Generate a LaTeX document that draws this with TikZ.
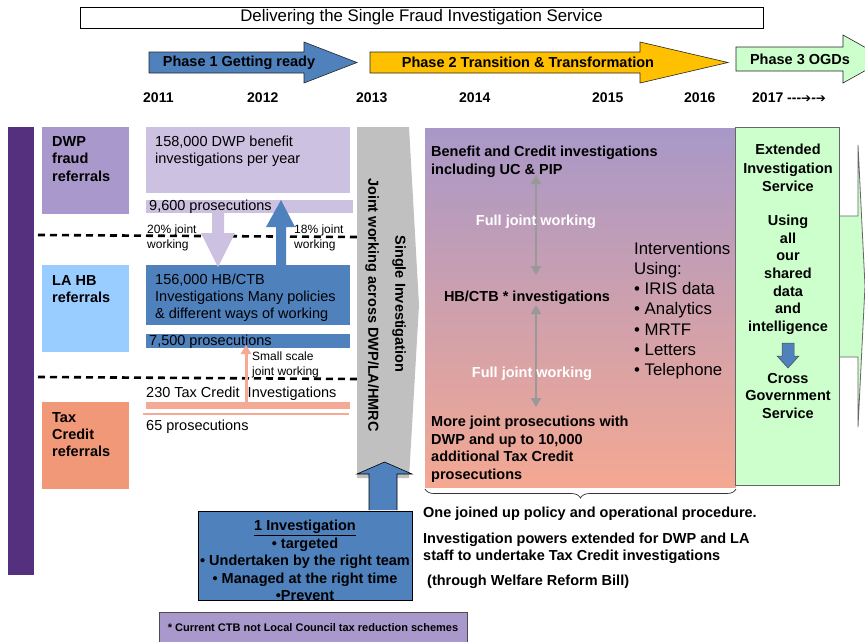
\documentclass[tikz,border=0pt]{standalone}
\usepackage{fontspec}
\setmainfont{Liberation Sans}
\newfontfamily\arrowfont{DejaVu Sans}
\usetikzlibrary{arrows.meta,decorations.pathreplacing}
\definecolor{fisblue}{HTML}{4F81BD}
\definecolor{lavdark}{HTML}{A898CB}
\definecolor{lavlight}{HTML}{CDC1E1}
\definecolor{hbblue}{HTML}{99CCFF}
\definecolor{salmon}{HTML}{F09878}
\definecolor{salmonlight}{HTML}{F4AA94}
\definecolor{barpurple}{HTML}{55307F}
\definecolor{greyarrow}{HTML}{C0C0C0}
\definecolor{ogdgreen}{HTML}{CCFFCC}
\definecolor{phasegold}{HTML}{FFC000}
\definecolor{gradtop}{HTML}{A898C8}
\definecolor{gradmid}{HTML}{5582C0}
\definecolor{gradbot}{HTML}{F4A892}
\begin{document}
\begin{tikzpicture}[x=1pt,y=-1pt,
  txt/.style={inner sep=0pt, align=left, font=\fontsize{14.5}{17}\selectfont},
  btxt/.style={inner sep=0pt, align=left, font=\fontsize{14.5}{17.5}\selectfont\bfseries},
  smalltxt/.style={inner sep=0pt, align=left, font=\fontsize{12}{14.5}\selectfont},
  yeartxt/.style={inner sep=0pt, font=\fontsize{14}{16}\selectfont\bfseries},
  phaseline/.style={draw=black!85, line width=0.6pt},
  divider/.style={line width=2.6pt, dash pattern=on 7pt off 5pt},
  fullarrow/.style={draw=black!40, line width=2.4pt, {Triangle[width=10pt,length=9pt]}-{Triangle[width=10pt,length=9pt]}},
  whitetxt/.style={inner sep=0pt, text=white, font=\fontsize{14.5}{17.5}\selectfont\bfseries}]
\useasboundingbox (0,0) rectangle (865,641);
\fill[white] (0,0) rectangle (865,641);

% title
\node[draw=black, line width=0.8pt, minimum width=683pt, minimum height=21pt, inner sep=0pt,
  font=\fontsize{16.8}{19}\selectfont] (title) at (421.5,17.5) {Delivering the Single Fraud Investigation Service};

% phase arrows
\draw[phaseline, fill=fisblue] (149,52) -- (304,52) -- (304,42) -- (357,62.5) -- (304,83) -- (304,73) -- (149,73) -- cycle;
\node[btxt] (ph1) at (239,62.5) {Phase 1 Getting ready};
\draw[phaseline, fill=phasegold] (370,52) -- (640,52) -- (640,42) -- (728,62.5) -- (640,83) -- (640,73) -- (370,73) -- cycle;
\node[btxt] (ph2) at (528,62.5) {Phase 2 Transition \& Transformation};
\draw[phaseline, fill=ogdgreen] (736,47) -- (843,47) -- (843,35) -- (886,59) -- (843,83) -- (843,71) -- (736,71) -- cycle;
\node[btxt] (ph3) at (800,59) {Phase 3 OGDs};

% years
\node[yeartxt, anchor=base west] (y2011) at (143,102) {2011};
\node[yeartxt, anchor=base west] (y2012) at (247,102) {2012};
\node[yeartxt, anchor=base west] (y2013) at (356,102) {2013};
\node[yeartxt, anchor=base west] (y2014) at (459,102) {2014};
\node[yeartxt, anchor=base west] (y2015) at (592,102) {2015};
\node[yeartxt, anchor=base west] (y2016) at (684,102) {2016};
\node[yeartxt, anchor=base west] (y2017) at (752,102) {2017 -{}-{}-{\arrowfont\fontsize{12}{14}\selectfont ➔}-{\arrowfont\fontsize{12}{14}\selectfont ➔}};

% left bar and referral boxes
\fill[barpurple] (8,127) rectangle (34,575);
\fill[lavdark] (42,127) rectangle (129,214);
\node[btxt, anchor=north west] (dwpref) at (52,136) {DWP\\fraud\\referrals};
\fill[hbblue] (42,265) rectangle (129,352);
\node[btxt, anchor=north west] (laref) at (52,275) {LA HB\\referrals};
\fill[salmon] (42,402) rectangle (129,489);
\node[btxt, anchor=north west, font=\fontsize{14.5}{17}\selectfont\bfseries] (tcref) at (52,412) {Tax\\Credit\\referrals};

% dashed dividers
\draw[divider] (38,235) -- (357,237);
\draw[divider] (38,377) -- (357,379);

% DWP column
\fill[lavlight] (146,127) rectangle (350,193);
\node[txt, anchor=north west] (dwpinv) at (155,136) {158,000 DWP benefit\\investigations per year};
\fill[lavlight] (146,200) rectangle (353,213);
\node[txt, anchor=base west] (dwppros) at (149,210.2) {9,600 prosecutions};

% LA column
\fill[fisblue] (146,265) rectangle (350,325);
\node[txt, anchor=north west] (lainv) at (155,274) {156,000 HB/CTB\\Investigations Many policies\\\& different ways of working};
\fill[fisblue] (146,334) rectangle (350,348);
\node[txt, anchor=base west] (lapros) at (149,345.2) {7,500 prosecutions};

% joint working arrows
\fill[lavlight] (212,213) -- (224,213) -- (224,233) -- (235,233) -- (218,267) -- (201,233) -- (212,233) -- cycle;
\fill[fisblue] (276,265) -- (276,227) -- (266,227) -- (281,200) -- (295,227) -- (286,227) -- (286,265) -- cycle;
\node[smalltxt, anchor=north west] (jw20) at (147,224.6) {20\% joint\\working};
\node[smalltxt, anchor=north west] (jw18) at (294,224.6) {18\% joint\\working};

% Tax credit column
\node[txt, anchor=base west] (tcinv) at (146,397.2) {230 Tax Credit\ \ Investigations};
\fill[salmonlight] (146,402) rectangle (350,409);
\draw[salmonlight, line width=1.6pt] (143,414) -- (349,414);
\node[txt, anchor=base west] (tcpros) at (146,430.2) {65 prosecutions};
\coordinate (sstart) at (246,402);
\coordinate (send) at (246,345);
\draw[salmonlight, line width=3pt, -{Triangle[width=10pt,length=9pt]}] (sstart) -- (send);
\node[smalltxt, anchor=north west] (ssjw) at (252,351.6) {Small scale\\joint working};

% grey single investigation arrow
\fill[greyarrow] (357,127) -- (409,127) -- (419,305) -- (409,478) -- (357,478) -- cycle;
\node[btxt, rotate=-90] (sinv) at (399,304) {Single Investigation};
\node[btxt, rotate=-90] (jwa) at (372,305) {Joint working across DWP/LA/HMRC};

% 1 Investigation box and arrow
\draw[draw=black, line width=0.6pt, fill=fisblue] (369,510) -- (369,474) -- (357,474) -- (384.5,462) -- (412,474) -- (397,474) -- (397,510);
\node[draw=black, line width=0.8pt, fill=fisblue, minimum width=214pt, minimum height=89pt, inner sep=0pt] (onebox) at (305,555.5) {};
\node[inner sep=0pt, align=center, anchor=north, font=\fontsize{14.5}{17.5}\selectfont\bfseries] (onetxt) at (305,520)
  {\underline{1 Investigation}\\• targeted\\• Undertaken by the right team\\• Managed at the right time\\•Prevent};

% footnote
\node[draw=black!70, line width=0.8pt, fill=lavdark, minimum width=308pt, minimum height=32pt, inner sep=0pt] (foot) at (313,628) {};
\node[inner sep=0pt, anchor=base, font=\fontsize{11}{13}\selectfont\bfseries] (foottxt) at (313,631) {* Current CTB not Local Council tax reduction schemes};

% gradient box
\shade[top color=gradtop, middle color=gradmid, bottom color=gradbot] (425,128) rectangle (736,487);
\node[btxt, anchor=north west, font=\fontsize{14.5}{18}\selectfont\bfseries] (benef) at (431,146) {Benefit and Credit investigations\\including UC \& PIP};
\node[btxt, anchor=base] (hbctb) at (527,301.2) {HB/CTB * investigations};
\node[btxt, anchor=north west] (morejp) at (431,416) {More joint prosecutions with\\DWP and up to 10,000\\additional Tax Credit\\prosecutions};
\coordinate (fa1) at (536,175);
\coordinate (fb1) at (536,275);
\coordinate (fa2) at (536,305);
\coordinate (fb2) at (536,407);
\draw[fullarrow] (fa1) -- (fb1);
\draw[fullarrow] (fa2) -- (fb2);
\node[whitetxt, anchor=base] (fjw1) at (536,225.2) {Full joint working};
\node[whitetxt, anchor=base] (fjw2) at (532,377.2) {Full joint working};
\node[inner sep=0pt, align=left, anchor=north west, font=\fontsize{16.8}{20.2}\selectfont] (interv) at (634,242)
  {Interventions\\Using:\\• IRIS data\\• Analytics\\• MRTF\\• Letters\\• Telephone};

% green phase 3 box and big arrow
\draw[draw=black!60, line width=0.8pt, fill=ogdgreen] (839,216) -- (858,216) -- (858,145) -- (865,286) -- (858,427) -- (858,357) -- (839,357);
\node[draw=black!60, line width=0.8pt, fill=ogdgreen, minimum width=104pt, minimum height=358pt, inner sep=0pt] (green) at (787,306) {};
\node[inner sep=0pt, align=center, anchor=north, font=\fontsize{14.5}{18.3}\selectfont\bfseries] (ext) at (788,144) {Extended\\Investigation\\Service};
\node[inner sep=0pt, align=center, anchor=north, font=\fontsize{14.5}{17.6}\selectfont\bfseries] (using) at (788,215) {Using\\all\\our\\shared\\data\\and\\intelligence};
\draw[draw=black!70, line width=0.5pt, fill=fisblue] (782,343) -- (794,343) -- (794,356) -- (799,356) -- (788,368) -- (777,356) -- (782,356) -- cycle;
\node[inner sep=0pt, align=center, anchor=north, font=\fontsize{14.5}{17.5}\selectfont\bfseries] (cross) at (788,373) {Cross\\Government\\Service};

% brace and bottom texts
\coordinate (bl) at (425,489);
\coordinate (br) at (736,489);
\draw[black!80, line width=0.7pt, decorate, decoration={brace, mirror, amplitude=9pt, aspect=0.5}] (bl) -- (br);
\node[btxt, anchor=base west] (onejoined) at (423,517.2) {One joined up policy and operational procedure.};
\node[btxt, anchor=north west, font=\fontsize{14.5}{17}\selectfont\bfseries] (powers) at (423,533) {Investigation powers extended for DWP and LA\\staff to undertake Tax Credit investigations};
\node[btxt, anchor=base west] (wrb) at (427,585.2) {(through Welfare Reform Bill)};
\end{tikzpicture}
\end{document}
